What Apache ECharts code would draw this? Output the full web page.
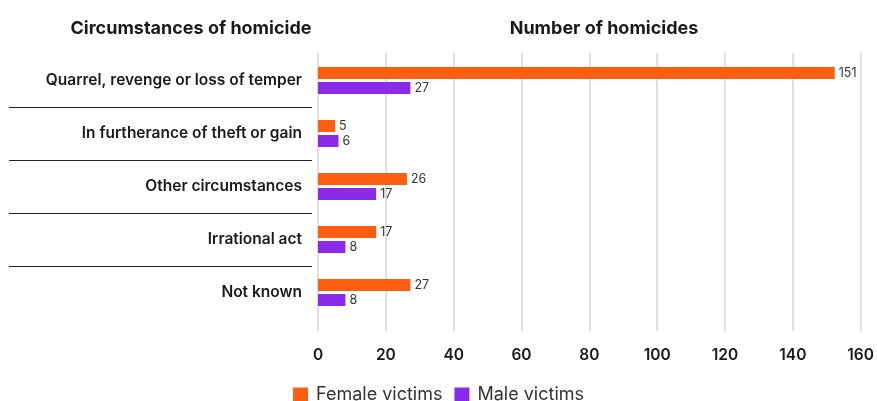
<!DOCTYPE html>
<html>
<head>
<meta charset="utf-8">
<script src="https://cdn.jsdelivr.net/npm/echarts@6/dist/echarts.min.js"></script>
<style>
  html, body { margin: 0; padding: 0; background: #fff; }
  #chart { width: 877px; height: 401px; }
</style>
</head>
<body>
<div id="chart"></div>
<script>
// Homicide circumstances by victim sex
const categories = [
  'Quarrel, revenge or loss of temper',
  'In furtherance of theft or gain',
  'Other circumstances',
  'Irrational act',
  'Not known'
];
const femaleVictims = [151, 5, 26, 17, 27];
const maleVictims = [27, 6, 17, 8, 8];
const seriesNames = ['Female victims', 'Male victims'];
const xTicks = { min: 0, max: 160, interval: 20 };

const FONT = 'Inter, "Noto Sans", sans-serif';
const ORANGE = '#FE5E10';
const PURPLE = '#8C2AEA';
const TEXT = '#1a1a1a';

const chart = echarts.init(document.getElementById('chart'), null, { renderer: 'canvas' });

const valueLabel = {
  show: true,
  position: 'right',
  distance: 4,
  color: '#333',
  fontFamily: FONT,
  fontSize: 12.5
};

chart.setOption({
  animation: false,
  textStyle: { fontFamily: FONT },
  title: [
    {
      text: 'Circumstances of homicide',
      left: 186, top: 15, textAlign: 'center',
      textStyle: { fontFamily: FONT, fontSize: 18, fontWeight: 700, color: TEXT }
    },
    {
      text: 'Number of homicides',
      left: 599, top: 15, textAlign: 'center',
      textStyle: { fontFamily: FONT, fontSize: 18, fontWeight: 700, color: TEXT }
    }
  ],
  legend: {
    data: seriesNames,
    left: 'center',
    top: 386,
    padding: 0,
    itemWidth: 15,
    itemHeight: 15,
    itemGap: 12,
    icon: 'rect',
    textStyle: { fontFamily: FONT, fontSize: 18, color: '#333', padding: [0, 0, 0, 3] }
  },
  grid: [
    // bars
    { left: 318, right: 11.5, top: 54, height: 265 },
    // value axis with gridlines
    { left: 318, right: 11.5, top: 53, height: 278 }
  ],
  xAxis: [
    {
      gridIndex: 0, type: 'value',
      min: xTicks.min, max: xTicks.max, interval: xTicks.interval,
      show: false, splitLine: { show: false }
    },
    {
      gridIndex: 1, type: 'value',
      min: xTicks.min, max: xTicks.max, interval: xTicks.interval,
      axisLine: { show: false },
      axisTick: { show: false },
      axisLabel: { color: TEXT, fontFamily: FONT, fontSize: 15.5, fontWeight: 600, margin: 16 },
      splitLine: { show: true, lineStyle: { color: '#d6d6d6', width: 1.5 } }
    }
  ],
  yAxis: [
    {
      gridIndex: 0, type: 'category', data: categories, inverse: true,
      axisLine: { show: false },
      axisTick: { show: false },
      axisLabel: { color: TEXT, fontFamily: FONT, fontSize: 15.5, fontWeight: 600, margin: 16 }
    },
    { gridIndex: 1, type: 'value', min: 0, max: 1, show: false }
  ],
  series: [
    {
      name: seriesNames[0], type: 'bar', xAxisIndex: 0, yAxisIndex: 0,
      data: femaleVictims, barWidth: 12, barGap: '25%',
      itemStyle: { color: ORANGE }, label: valueLabel, z: 3
    },
    {
      name: seriesNames[1], type: 'bar', xAxisIndex: 0, yAxisIndex: 0,
      data: maleVictims, barWidth: 12, barGap: '25%',
      itemStyle: { color: PURPLE }, label: valueLabel, z: 3
    }
  ]
});

// Divider rules between the category labels, placed at band boundaries
const rules = [];
for (let i = 0; i < categories.length - 1; i++) {
  const a = chart.convertToPixel({ yAxisIndex: 0 }, i);
  const b = chart.convertToPixel({ yAxisIndex: 0 }, i + 1);
  const y = Math.round((a + b) / 2) + 0.5;
  rules.push({
    type: 'line',
    shape: { x1: 9, y1: y, x2: 312, y2: y },
    style: { stroke: '#222', lineWidth: 1 }
  });
}
chart.setOption({ graphic: rules });
</script>
</body>
</html>
